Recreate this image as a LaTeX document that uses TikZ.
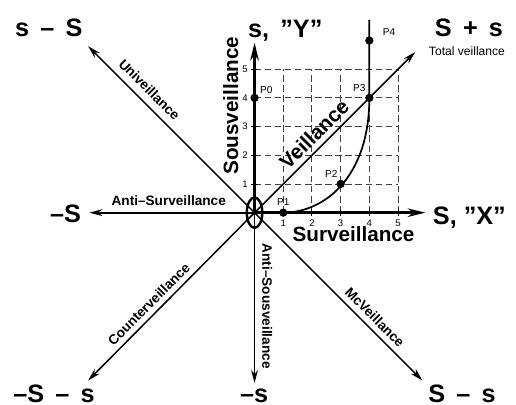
\documentclass[tikz,border=0pt]{standalone}
\usepackage{fontspec}
\setmainfont{Liberation Sans}
\usetikzlibrary{positioning, arrows.meta}

\begin{document}
\begin{tikzpicture}[
        % Styles for the texts
        corner_label/.style={font=\fontsize{25}{30}\selectfont\bfseries, anchor=base west, inner sep=0pt},
        axis_title/.style={font=\fontsize{20.5}{24}\selectfont\bfseries, inner sep=0pt},
        line_label/.style={font=\fontsize{13.5}{16}\selectfont\bfseries, inner sep=0.2cm},
        tick_label/.style={font=\fontsize{9.5}{11}\selectfont, inner sep=0pt},
        p_label/.style={font=\fontsize{10}{12}\selectfont, inner sep=0pt},
        dot/.style={circle, fill=black, inner sep=0pt, minimum size=0.29cm},
        % Styles for the lines
        main_axis/.style={line width=2.3pt, -{Stealth[length=0.62cm, width=0.3cm]}},
        neg_axis/.style={line width=1.7pt, -{Stealth[length=0.45cm, width=0.24cm]}},
        diag_axis/.style={line width=1.5pt, -{Stealth[length=0.45cm, width=0.24cm]}},
        grid_line/.style={dash pattern=on 6.5pt off 3.5pt, line width=0.9pt, black!75}
    ]

    % Fix the margins of the picture
    \useasboundingbox (-8.87,-6.70) rectangle (9.11,7.41);

    % Dashed grid and ticks of the first quadrant
    \foreach \i in {1,...,5} {
        \draw[grid_line] (\i,0) -- (\i,5);
        \draw[grid_line] (0,\i) -- (5,\i);
        \draw[line width=0.9pt] (\i,-0.13) -- (\i,0.13);
        \draw[line width=0.9pt] (-0.13,\i) -- (0.13,\i);
        \node[tick_label] (x_tick_\i) at (\i,-0.36) {\i};
        \node[tick_label] (y_tick_\i) at (-0.33,\i) {\i};
    }

    % Origin and arrow tips
    \coordinate (O) at (0,0);
    \coordinate (x_tip) at (5.95,0);
    \coordinate (y_tip) at (0,5.92);
    \coordinate (xneg_tip) at (-5.75,0);
    \coordinate (yneg_tip) at (0,-5.93);
    \coordinate (veil_tip) at (5.6,5.6);
    \coordinate (uni_tip) at (-5.8,5.8);
    \coordinate (counter_tip) at (-5.8,-5.85);
    \coordinate (mc_tip) at (5.85,-5.85);

    % The eight directions
    \draw[main_axis] (O) -- (x_tip);
    \draw[main_axis] (O) -- (y_tip);
    \draw[neg_axis] (O) -- node[line_label, sloped, above, pos=0.52] {Anti–Surveillance} (xneg_tip);
    \draw[neg_axis] (O) -- node[line_label, pos=0.55, rotate=-90, anchor=south, inner sep=0.24cm] {Anti–Sousveillance} (yneg_tip);
    \draw[diag_axis] (O) -- node[axis_title, sloped, above, pos=0.43, inner sep=0.18cm] {Veillance} (veil_tip);
    \draw[diag_axis] (O) -- node[line_label, sloped, above, pos=0.685, inner sep=0.24cm] {Univeillance} (uni_tip);
    \draw[diag_axis] (O) -- node[line_label, sloped, above, pos=0.59, inner sep=0.17cm] {Counterveillance} (counter_tip);
    \draw[diag_axis] (O) -- node[line_label, sloped, above, pos=0.67, inner sep=0.19cm] {McVeillance} (mc_tip);

    % Ring at the origin
    \draw[line width=2.4pt] (O) ellipse [x radius=0.27, y radius=0.53];

    % Points and the path through them
    \node[dot] (p0) at (0,4) {};
    \node[dot] (p1) at (1,0) {};
    \node[dot] (p2) at (3,1) {};
    \node[dot] (p3) at (4,4) {};
    \node[dot] (p4) at (4,6) {};
    \coordinate (path_end) at (4,6.72);
    \draw[line width=1.7pt] (p1.center) .. controls (2.4,0) and (4,1.2) .. (p3.center) -- (path_end);

    \node[p_label, above right=0.05cm and 0.08cm of p0] (p0_label) {P0};
    \node[p_label, above=0.1cm of p1] (p1_label) {P1};
    \node[p_label, above left=0.12cm and 0cm of p2] (p2_label) {P2};
    \node[p_label, above left=0.11cm and 0.02cm of p3] (p3_label) {P3};
    \node[p_label, above right=0.06cm and 0.36cm of p4] (p4_label) {P4};

    % Axis titles
    \node[axis_title, anchor=base] (surv_title) at (3.45,-0.99) {Surveillance};
    \node[axis_title, rotate=90, anchor=base] (sous_title) at (-0.57,3.73) {Sousveillance};

    % Corner labels
    \node[corner_label] (x_label) at (6.21,-0.43) {S, "X"};
    \node[corner_label] (y_label) at (-0.23,6.12) {s, \,"Y"};
    \node[corner_label] (xneg_label) at (-7.13,-0.35) {–S};
    \node[corner_label] (yneg_label) at (-0.51,-6.6) {–s};
    \node[corner_label] (veil_label) at (6.28,6.13) {S \,+ \,s};
    \node[font=\fontsize{12}{14}\selectfont, anchor=base west, inner sep=0pt] (total_label) at (6.07,5.49) {Total veillance};
    \node[corner_label] (uni_label) at (-8.35,6.13) {s \,– \,S};
    \node[corner_label] (counter_label) at (-8.41,-6.6) {–S \,– \,s};
    \node[corner_label] (mc_label) at (6.05,-6.6) {S \,– \,s};

\end{tikzpicture}
\end{document}
